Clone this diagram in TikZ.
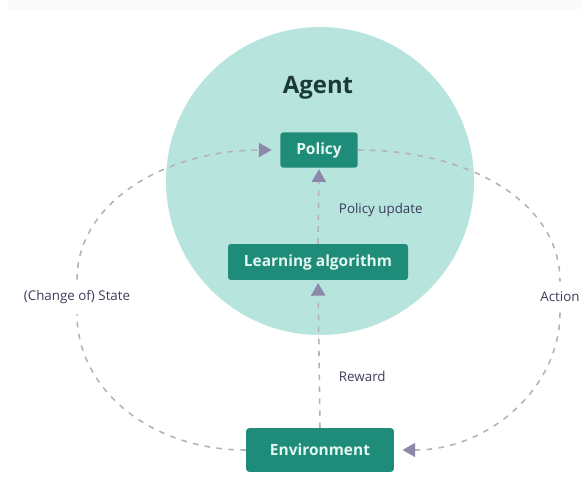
\documentclass[tikz,border=0pt]{standalone}
\usepackage{fontspec}
\setmainfont{Open Sans}
\usetikzlibrary{arrows.meta,positioning}

\definecolor{agentbg}{HTML}{B7E4DD}
\definecolor{boxfill}{HTML}{1E8C78}
\definecolor{boxtext}{HTML}{E2F7F0}
\definecolor{agenttext}{HTML}{1C3A35}
\definecolor{labeltext}{HTML}{3A3D5A}
\definecolor{tipcolor}{HTML}{8C88AA}
\definecolor{dashgray}{HTML}{B2B2B8}

\tikzset{
  box/.style={fill=boxfill, text=boxtext, rounded corners=2pt, inner sep=0pt,
    font=\bfseries\fontsize{11}{13}\selectfont},
  lbl/.style={text=labeltext, font=\fontsize{9.5}{11}\selectfont},
  flow/.style={draw=dashgray, line width=1.1pt, dash pattern=on 4pt off 4.5pt,
    -{Triangle[length=9pt,width=10pt,color=tipcolor]}},
  loopline/.style={draw=dashgray, line width=1.1pt, dash pattern=on 4pt off 4.5pt}
}

\begin{document}
\begin{tikzpicture}[x=0.025cm,y=-0.025cm]
\useasboundingbox (0,0) rectangle (582,488);
\fill[gray!4] (8,0) rectangle (582,9);

% agent circle
\fill[agentbg] (320,181) circle[radius=154];
\node[text=agenttext, font=\bfseries\fontsize{17}{19}\selectfont] (agent) at (318,88) {Agent};

% boxes
\node[box, minimum width=55pt, minimum height=25pt] (policy) at (319,150) {Policy};
\node[box, minimum width=128pt, minimum height=25.5pt] (learn) at (318,262) {Learning algorithm};
\node[box, minimum width=105pt, minimum height=31pt] (env) at (320,450) {Environment};

% side labels
\node[lbl] (state) at (77,297) {(Change of) State};
\node[lbl] (action) at (560,297) {Action};
\node[lbl, anchor=west] (upd) at (334,210) {Policy update};
\node[lbl, anchor=west] (reward) at (334,376) {Reward};

% inner arrows
\draw[flow, shorten >=2pt] (env.north) -- (learn.south);
\draw[flow, shorten >=1pt] (learn.north) -- (policy.south);

% outer loop
\draw[loopline] (env.west) .. controls +(-95,0) and +(0,75) .. ([yshift=-4pt]state.south);
\draw[flow, shorten >=6pt] ([yshift=4pt]state.north) .. controls +(0,-80) and +(-110,0) .. (policy.west);
\draw[loopline] (policy.east) .. controls +(110,0) and +(0,-80) .. ([yshift=4pt]action.north);
\draw[flow, shorten >=6pt] ([yshift=-4pt]action.south) .. controls +(0,75) and +(95,0) .. (env.east);
\end{tikzpicture}
\end{document}
